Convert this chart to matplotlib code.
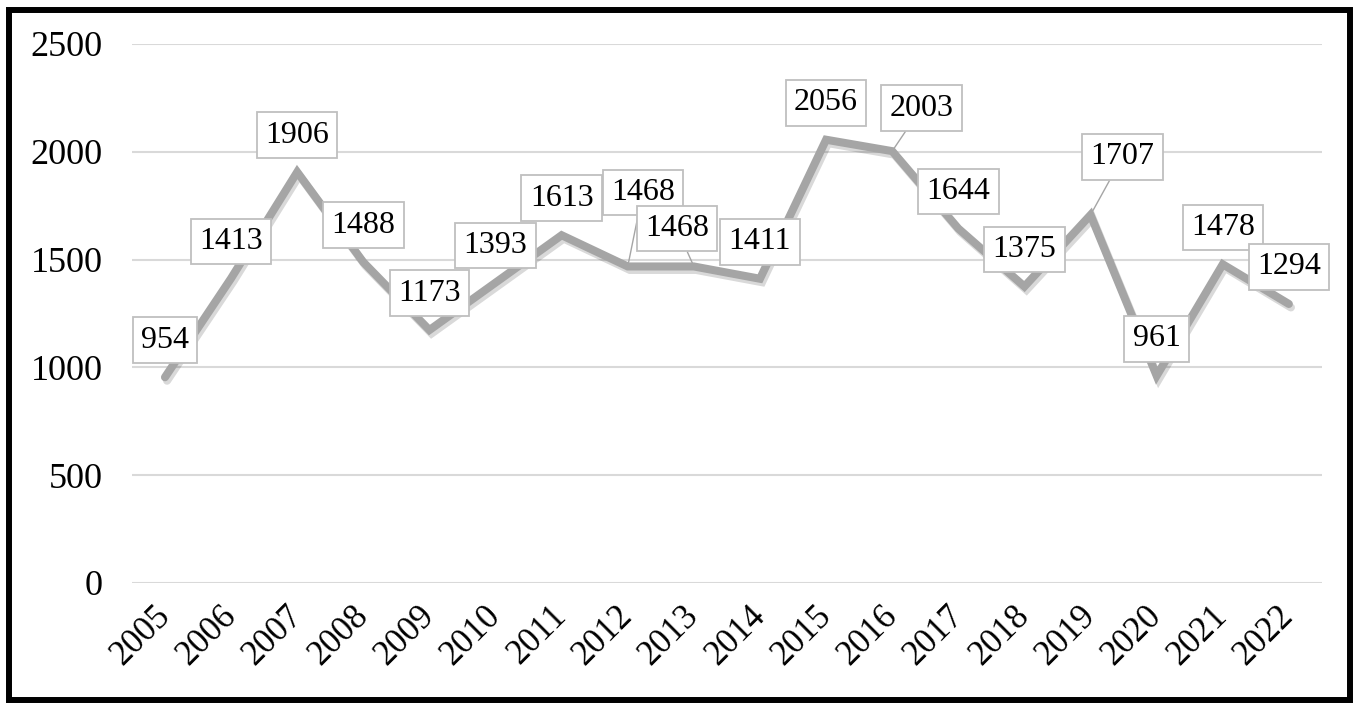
import matplotlib.pyplot as plt
import matplotlib.patheffects as pe
from matplotlib.patches import Rectangle
import numpy as np

# ---------- Data ----------
years = ['2005', '2006', '2007', '2008', '2009', '2010', '2011', '2012', '2013',
         '2014', '2015', '2016', '2017', '2018', '2019', '2020', '2021', '2022']
values = [954, 1413, 1906, 1488, 1173, 1393, 1613, 1468, 1468,
          1411, 2056, 2003, 1644, 1375, 1707, 961, 1478, 1294]
y_ticks = [0, 500, 1000, 1500, 2000, 2500]

# ---------- Label placement (pixel offsets from the point) ----------
default_offset = (0, 37)
moved_labels = {7: (15, 74), 8: (-17, 38), 11: (29, 43), 14: (32, 58)}

plt.rcParams['font.family'] = ['Liberation Serif', 'DejaVu Serif']

fig = plt.figure(figsize=(13.6, 7.04), dpi=100)
ax = fig.add_axes([0.097, 0.172, 0.875, 0.7655])

x = np.arange(len(years))
ax.plot(x, values, color='#A5A5A5', lw=5.8, solid_joinstyle='miter',
        solid_capstyle='round', zorder=3,
        path_effects=[pe.SimpleLineShadow(offset=(1.5, -2.5), shadow_color='black', alpha=0.15),
                      pe.Normal()])

# ---------- Data labels ----------
for i, v in enumerate(values):
    off = moved_labels.get(i, default_offset)
    arrow = None
    if i in moved_labels:
        arrow = dict(arrowstyle='-', color='#A5A5A5', lw=1.0, shrinkA=0, shrinkB=0)
    ax.annotate(str(v), xy=(i, v), xytext=off, textcoords='offset pixels',
                ha='center', va='center', fontsize=23, color='black', zorder=5,
                bbox=dict(boxstyle='square,pad=0.26', fc='white', ec='#BFBFBF', lw=1.3),
                arrowprops=arrow)

# ---------- Axes settings ----------
ax.set_xlim(-0.5, len(years) - 0.5)
ax.set_ylim(0, 2500)
ax.set_yticks(y_ticks)
ax.set_yticklabels([str(t) for t in y_ticks], fontsize=26)
ax.set_xticks(x)
ax.set_xticklabels(years, fontsize=25, rotation=45, ha='right', va='center',
                   rotation_mode='anchor')
ax.tick_params(axis='both', length=0)
ax.tick_params(axis='y', pad=21)
ax.tick_params(axis='x', pad=20)
ax.grid(axis='y', color='#D9D9D9', lw=1.5)
ax.set_axisbelow(True)
for s in ax.spines.values():
    s.set_visible(False)

# ---------- Outer border ----------
fig.patches.append(Rectangle((0.00625, 0.00568), 0.98676, 0.98012, transform=fig.transFigure,
                             fill=False, ec='black', lw=4.3))

fig.savefig('out.png', dpi=100)
